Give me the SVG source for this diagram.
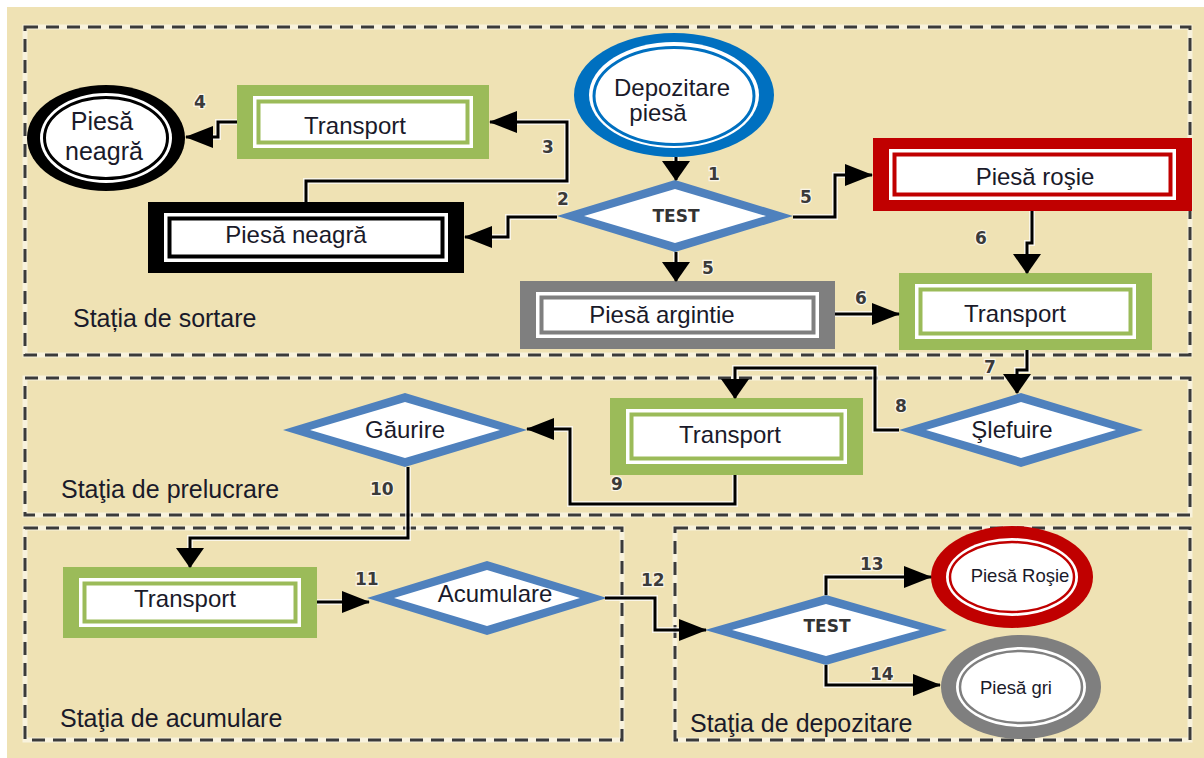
<svg xmlns="http://www.w3.org/2000/svg" width="1204" height="758" viewBox="0 0 1204 758">
<style>
.zone{fill:none;stroke:#3a3a3a;stroke-width:3;stroke-dasharray:13 8}
.zoneh{fill:none;stroke:#ffffff;stroke-width:5;stroke-opacity:0.55}
.lbl{font-family:"Liberation Sans",Arial,sans-serif;font-size:25px;fill:#1a1a2a}
.t{font-family:"Liberation Sans",Arial,sans-serif;font-size:24px;fill:#1a1a2a;text-anchor:middle}
.ts{font-family:"Liberation Sans",Arial,sans-serif;font-size:18.5px;fill:#1a1a2a;text-anchor:middle}
.tb{font-family:"DejaVu Sans",Verdana,sans-serif;font-size:17px;font-weight:bold;fill:#333;text-anchor:middle}
.num{font-family:"DejaVu Sans",Verdana,sans-serif;font-size:17px;font-weight:bold;fill:#3a3a3a;stroke:#fff;stroke-width:2.5;paint-order:stroke;stroke-opacity:0.7}
.w{fill:#fff}
.gr{fill:#9BBB59}.gri{fill:#fff;stroke:#9BBB59;stroke-width:4}
.bk{fill:#000}.bki{fill:#fff;stroke:#000;stroke-width:4}
.rd{fill:#C00000}.rdi{fill:#fff;stroke:#C00000;stroke-width:4}
.gy{fill:#7F7F7F}.gyi{fill:#fff;stroke:#7F7F7F;stroke-width:4}
.dia{fill:#4F81BD}
.halo{fill:none;stroke:#fff;stroke-width:6;stroke-opacity:0.7}
.ln{fill:none;stroke:#000;stroke-width:3}
.lh{marker-end:url(#ah)}
.lv{marker-end:url(#av)}
</style>
<defs>
<marker id="ah" markerUnits="userSpaceOnUse" viewBox="0 0 28 22" refX="27" refY="11" markerWidth="28" markerHeight="22" orient="auto"><path d="M0,0 L28,11 L0,22 Z" fill="#000"/></marker>
<marker id="av" markerUnits="userSpaceOnUse" viewBox="0 0 20 28" refX="19" refY="14" markerWidth="20" markerHeight="28" orient="auto"><path d="M0,0 L20,14 L0,28 Z" fill="#000"/></marker>
</defs>
<rect width="1204" height="758" fill="#fff"/>
<rect x="7" y="7" width="1197" height="751" fill="#EFE2B4"/>

<g id="zones">
<rect class="zoneh" x="25" y="27" width="1165" height="328"/>
<rect class="zone" x="25" y="27" width="1165" height="328"/>
<rect class="zoneh" x="25" y="378" width="1165" height="137"/>
<rect class="zone" x="25" y="378" width="1165" height="137"/>
<rect class="zoneh" x="25" y="528" width="597" height="212"/>
<rect class="zone" x="25" y="528" width="597" height="212"/>
<rect class="zoneh" x="675" y="528" width="515" height="212"/>
<rect class="zone" x="675" y="528" width="515" height="212"/>
<text class="lbl" x="73" y="327">Stația de sortare</text>
<text class="lbl" x="61" y="498">Staţia de prelucrare</text>
<text class="lbl" x="60" y="727">Staţia de acumulare</text>
<text class="lbl" x="690" y="732">Staţia de depozitare</text>
</g>

<g id="depozitare-piesa">
<ellipse cx="674" cy="95" rx="100" ry="62" fill="#0070C0"/>
<ellipse cx="674" cy="95" rx="85" ry="53" class="w"/>
<ellipse cx="674" cy="96" rx="80" ry="48.5" fill="#fff" stroke="#0070C0" stroke-width="3"/>
<text class="t" x="672" y="96">Depozitare</text>
<text class="t" x="658" y="121">piesă</text>
</g>

<g id="test1">
<polygon class="dia" points="557,216 675,180 793,216 675,252"/>
<polygon class="w" points="584,216 675,189 766,216 675,243"/>
<text class="tb" x="676" y="222">TEST</text>
</g>

<g id="piesa-neagra-circle">
<ellipse cx="106" cy="138" rx="79" ry="53" class="bk"/>
<ellipse cx="106" cy="138" rx="66" ry="45" class="w"/>
<ellipse cx="106" cy="138" rx="61.5" ry="40.5" fill="#fff" stroke="#000" stroke-width="3"/>
<text class="t" x="102" y="130" style="font-size:25px">Piesă</text>
<text class="t" x="104" y="160" style="font-size:25px">neagră</text>
</g>

<g id="transport1">
<rect class="gr" x="237" y="85" width="252" height="74"/>
<rect class="w" x="253" y="96" width="220" height="52"/>
<rect class="gri" x="258.5" y="101.5" width="209" height="41"/>
<text class="t" x="355" y="134">Transport</text>
</g>

<g id="piesa-neagra">
<rect class="bk" x="148" y="202" width="316" height="71"/>
<rect class="w" x="164" y="213" width="284" height="49"/>
<rect class="bki" x="169.5" y="218.5" width="273" height="38"/>
<text class="t" x="296" y="243">Piesă neagră</text>
</g>

<g id="piesa-rosie">
<rect class="rd" x="873" y="138" width="319" height="73"/>
<rect class="w" x="889" y="149" width="287" height="51"/>
<rect class="rdi" x="894.5" y="154.5" width="276" height="40"/>
<text class="t" x="1035" y="185">Piesă roşie</text>
</g>

<g id="piesa-argintie">
<rect class="gy" x="520" y="281" width="315" height="68"/>
<rect class="w" x="536" y="292" width="283" height="46"/>
<rect class="gyi" x="541.5" y="297.5" width="272" height="35"/>
<text class="t" x="662" y="323">Piesă argintie</text>
</g>

<g id="transport2">
<rect class="gr" x="899" y="273" width="253" height="77"/>
<rect class="w" x="915" y="284" width="221" height="55"/>
<rect class="gri" x="920.5" y="289.5" width="210" height="44"/>
<text class="t" x="1015" y="322">Transport</text>
</g>

<g id="slefuire">
<polygon class="dia" points="899,430 1021,393 1143,430 1021,467"/>
<polygon class="w" points="926,430 1021,402 1116,430 1021,458"/>
<text class="t" x="1012" y="438">Şlefuire</text>
</g>

<g id="transport3">
<rect class="gr" x="610" y="398" width="253" height="77"/>
<rect class="w" x="626" y="409" width="221" height="55"/>
<rect class="gri" x="631.5" y="414.5" width="210" height="44"/>
<text class="t" x="730" y="443">Transport</text>
</g>

<g id="gaurire">
<polygon class="dia" points="283,430 405,393 527,430 405,467"/>
<polygon class="w" points="310,430 405,402 500,430 405,458"/>
<text class="t" x="405" y="438">Găurire</text>
</g>

<g id="transport4">
<rect class="gr" x="63" y="567" width="254" height="71"/>
<rect class="w" x="79" y="578" width="222" height="49"/>
<rect class="gri" x="84.5" y="583.5" width="211" height="38"/>
<text class="t" x="185" y="607">Transport</text>
</g>

<g id="acumulare">
<polygon class="dia" points="367,598 487,561 607,598 487,635"/>
<polygon class="w" points="394,598 487,570 580,598 487,626"/>
<text class="t" x="495" y="602">Acumulare</text>
</g>

<g id="test2">
<polygon class="dia" points="705,630 826,595 947,630 826,665"/>
<polygon class="w" points="732,630 826,604 920,630 826,656"/>
<text class="tb" x="827" y="632">TEST</text>
</g>

<g id="piesa-rosie-circle">
<ellipse cx="1012" cy="577" rx="81" ry="51" class="rd"/>
<ellipse cx="1012" cy="577" rx="66" ry="39" class="w"/>
<ellipse cx="1012" cy="577" rx="62" ry="35" fill="#fff" stroke="#C00000" stroke-width="2.5"/>
<text class="ts" x="1020" y="582">Piesă Roşie</text>
</g>

<g id="piesa-gri-circle">
<ellipse cx="1021" cy="687" rx="80" ry="52" class="gy"/>
<ellipse cx="1021" cy="687" rx="65" ry="40" class="w"/>
<ellipse cx="1021" cy="687" rx="61" ry="36" fill="#fff" stroke="#7F7F7F" stroke-width="2.5"/>
<text class="ts" x="1016" y="694">Piesă gri</text>
</g>

<g id="connectors">
<path class="halo" d="M676,157 V170"/>
<path class="halo" d="M557,217 H508 V237 H480"/>
<path class="halo" d="M306,202 V181 H567 V122 H500"/>
<path class="halo" d="M237,122 H218 V137 H200"/>
<path class="halo" d="M793,217 H835 V175 H850"/>
<path class="halo" d="M676,252 V265"/>
<path class="halo" d="M1032,211 V243 H1027 V255"/>
<path class="halo" d="M835,314 H880"/>
<path class="halo" d="M1027,350 V370 H1017 V378"/>
<path class="halo" d="M899,430 H875 V368 H735 V380"/>
<path class="halo" d="M735,475 V504 H570 V429 H540"/>
<path class="halo" d="M408,467 V538 H190 V550"/>
<path class="halo" d="M317,602 H345"/>
<path class="halo" d="M605,598 H655 V630 H680"/>
<path class="halo" d="M826,595 V577 H905"/>
<path class="halo" d="M826,665 V685 H912"/>

<path class="ln lv" d="M676,157 V180"/>
<path class="ln lh" d="M557,217 H508 V237 H465"/>
<path class="ln lh" d="M306,202 V181 H567 V122 H490"/>
<path class="ln lh" d="M237,122 H218 V137 H186"/>
<path class="ln lh" d="M793,217 H835 V175 H872"/>
<path class="ln lv" d="M676,252 V281"/>
<path class="ln lv" d="M1032,211 V243 H1027 V273"/>
<path class="ln lh" d="M835,314 H899"/>
<path class="ln lv" d="M1027,350 V370 H1017 V393"/>
<path class="ln lv" d="M899,430 H875 V368 H735 V398"/>
<path class="ln lh" d="M735,475 V504 H570 V429 H527"/>
<path class="ln lv" d="M408,467 V538 H190 V567"/>
<path class="ln lh" d="M317,602 H369"/>
<path class="ln lh" d="M605,598 H655 V630 H706"/>
<path class="ln lh" d="M826,595 V577 H931"/>
<path class="ln lh" d="M826,665 V685 H940"/>

<text class="num" x="708" y="180">1</text>
<text class="num" x="557" y="205">2</text>
<text class="num" x="542" y="153">3</text>
<text class="num" x="194" y="108">4</text>
<text class="num" x="800" y="203">5</text>
<text class="num" x="702" y="274">5</text>
<text class="num" x="975" y="244">6</text>
<text class="num" x="855" y="304">6</text>
<text class="num" x="984" y="373">7</text>
<text class="num" x="895" y="412">8</text>
<text class="num" x="611" y="490">9</text>
<text class="num" x="370" y="495">10</text>
<text class="num" x="355" y="585">11</text>
<text class="num" x="641" y="586">12</text>
<text class="num" x="860" y="570">13</text>
<text class="num" x="870" y="680">14</text>
</g>
</svg>
